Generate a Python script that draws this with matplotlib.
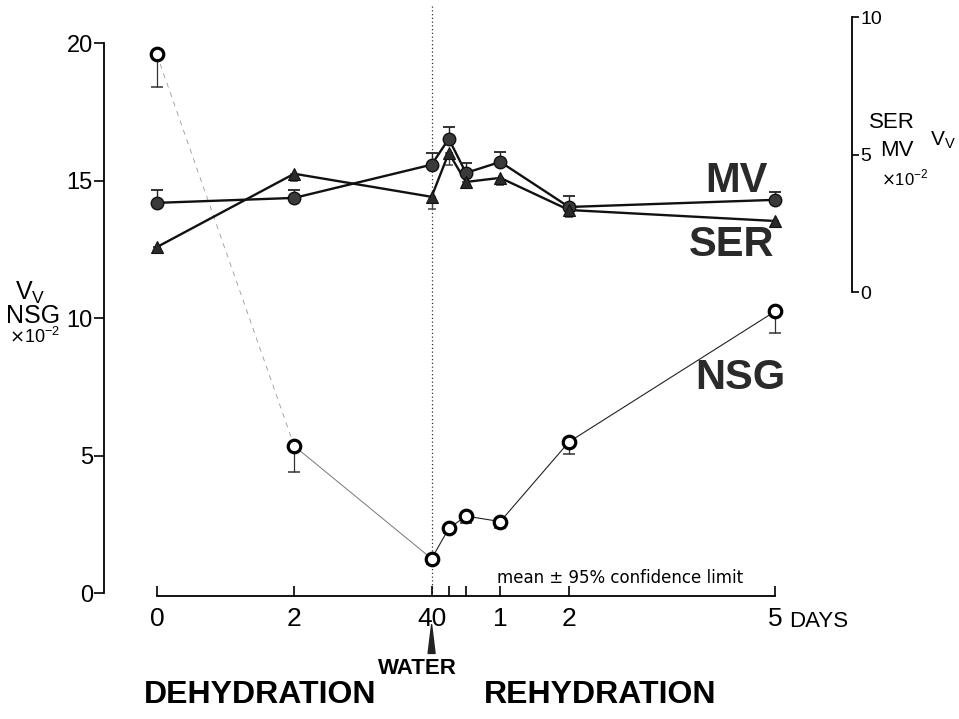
import matplotlib.pyplot as plt
import numpy as np

plt.rcParams['font.family'] = ['Liberation Sans', 'DejaVu Sans']

# time axis: dehydration days 0-4, then rehydration days 0-5 (shown as 4..9)
days = [0, 2, 4, 4.25, 4.5, 5, 6, 9]

# NSG volume density (left axis, x10^-2), lower 95% limits
nsg = [19.6, 5.35, 1.25, 2.35, 2.8, 2.6, 5.5, 10.25]
nsg_err = [1.2, 0.95, 0.2, 0.15, 0.25, 0.25, 0.45, 0.8]

# MV and SER volume density (right axis, x10^-2)
mv = [3.25, 3.43, 4.64, 5.58, 4.34, 4.74, 3.10, 3.36]
mv_err = [0.47, 0.29, 0.43, 0.44, 0.37, 0.37, 0.40, 0.29]
ser = [1.64, 4.31, 3.47, 5.07, 4.01, 4.16, 2.99, 2.59]
ser_err = [0.0, 0.25, 0.44, 0.44, 0.22, 0.26, 0.26, 0.15]

xtick_pos = [0, 2, 4, 5, 6, 9]
xtick_labels = ['0', '2', '40', '1', '2', '5']
xtick_minor = [4.25, 4.5]
left_ticks = [0, 5, 10, 15, 20]
right_ticks = [0, 5, 10]
right_offset = 10.95

fig = plt.figure(figsize=(9.59, 7.19), dpi=100)
ax = fig.add_axes([0.1084, 0.1714, 0.780, 0.8216])
ax.set_xlim(-0.77, 10.12)
ax.set_ylim(-0.1, 21.4)

ax2 = ax.twinx()
ax2.set_ylim(-0.1 - right_offset, 21.4 - right_offset)

# water given at end of dehydration
ax.axvline(4, ls=(0, (1, 2)), lw=0.9, color='#333333', zorder=1)

# NSG
ax.plot(days[0:2], nsg[0:2], ls=(0, (6, 6)), lw=0.6, color='#999999')
ax.plot(days[1:3], nsg[1:3], ls='-', lw=0.7, color='#777777')
ax.plot(days[2:], nsg[2:], ls='-', lw=0.8, color='#222222')
ax.errorbar(days, nsg, yerr=[nsg_err, np.zeros(len(nsg))], fmt='none',
            ecolor='#333333', elinewidth=0.9, capsize=4, capthick=1.1)
ax.plot(days, nsg, 'o', ms=9, mfc='white', mec='black', mew=2.3, ls='none', zorder=4)

# MV and SER
ax2.plot(days, mv, '-', lw=1.7, color='#111111')
ax2.plot(days, ser, '-', lw=1.7, color='#111111')
ax2.errorbar(days, mv, yerr=[np.zeros(len(mv)), mv_err], fmt='none',
             ecolor='#222222', elinewidth=1, capsize=4, capthick=1.3)
ax2.errorbar(days, ser, yerr=[ser_err, np.zeros(len(ser))], fmt='none',
             ecolor='#444444', elinewidth=1, capsize=3, capthick=1.1)
ax2.plot(days, mv, 'o', ms=9, mfc='#3a3a3a', mec='#111111', mew=1, ls='none', zorder=4)
ax2.plot(days, ser, '^', ms=8, mfc='#2a2a2a', mec='#111111', mew=0.8, ls='none', zorder=4)

# spines
for a in (ax, ax2):
    a.spines['top'].set_visible(False)
ax.spines['right'].set_visible(False)
ax2.spines['left'].set_visible(False)
ax2.spines['bottom'].set_visible(False)
ax.spines['left'].set_bounds(0, 20)
ax.spines['bottom'].set_bounds(0, 9)
ax2.spines['right'].set_bounds(0, 10)
for s in (ax.spines['left'], ax.spines['bottom'], ax2.spines['right']):
    s.set_linewidth(1.3)

ax.set_xticks(xtick_pos)
ax.set_xticklabels(xtick_labels)
ax.set_xticks(xtick_minor, minor=True)
ax.tick_params(axis='x', which='both', direction='in', length=7, width=1.2,
               pad=8, labelsize=19)
ax.set_yticks(left_ticks)
ax.tick_params(axis='y', direction='out', length=7, width=1.2, pad=1, labelsize=17)
ax2.set_yticks(right_ticks)
ax2.tick_params(axis='y', direction='out', length=5, width=1.2, pad=1, labelsize=14)

# series labels
big = dict(fontsize=30, fontweight='bold', color='#2a2a2a', ha='center', va='center')
ax.text(8.44, 14.98, 'MV', **big)
ax.text(8.37, 12.65, 'SER', **big)
ax.text(8.5, 7.82, 'NSG', **big)

ax.text(4.95, 0.55, 'mean ± 95% confidence limit', fontsize=12,
        family='DejaVu Sans', ha='left', va='center')
ax.text(9.21, -1.02, 'DAYS', fontsize=16, ha='left', va='center', clip_on=False)

# water arrow and phase labels
ax.annotate('', xy=(4, -1.05), xytext=(4, -2.3), xycoords='data',
            annotation_clip=False,
            arrowprops=dict(arrowstyle='wedge,tail_width=0.5', color='#222222'))
ax.text(3.80, -2.76, 'WATER', fontsize=16, fontweight='bold', ha='center',
        va='center', clip_on=False)
ax.text(1.5, -3.71, 'DEHYDRATION', fontsize=23, fontweight='bold', ha='center',
        va='center', clip_on=False)
ax.text(6.45, -3.71, 'REHYDRATION', fontsize=23, fontweight='bold', ha='center',
        va='center', clip_on=False)

# axis titles
W, H = 959, 719
fig.text(30 / W, 1 - 293 / H, r'V$_\mathregular{V}$', fontsize=18, ha='center', va='center')
fig.text(33 / W, 1 - 316 / H, 'NSG', fontsize=18, ha='center', va='center')
fig.text(35 / W, 1 - 337 / H, r'$\times$10$^{\mathregular{-2}}$', fontsize=13, ha='center', va='center')
fig.text(892 / W, 1 - 122 / H, 'SER', fontsize=16, ha='center', va='center')
fig.text(897 / W, 1 - 150 / H, 'MV', fontsize=16, ha='center', va='center')
fig.text(905 / W, 1 - 178 / H, r'$\times$10$^{\mathregular{-2}}$', fontsize=12, ha='center', va='center')
fig.text(943 / W, 1 - 140 / H, r'V$_\mathregular{V}$', fontsize=15, ha='center', va='center')

fig.savefig('out.png', dpi=100)
